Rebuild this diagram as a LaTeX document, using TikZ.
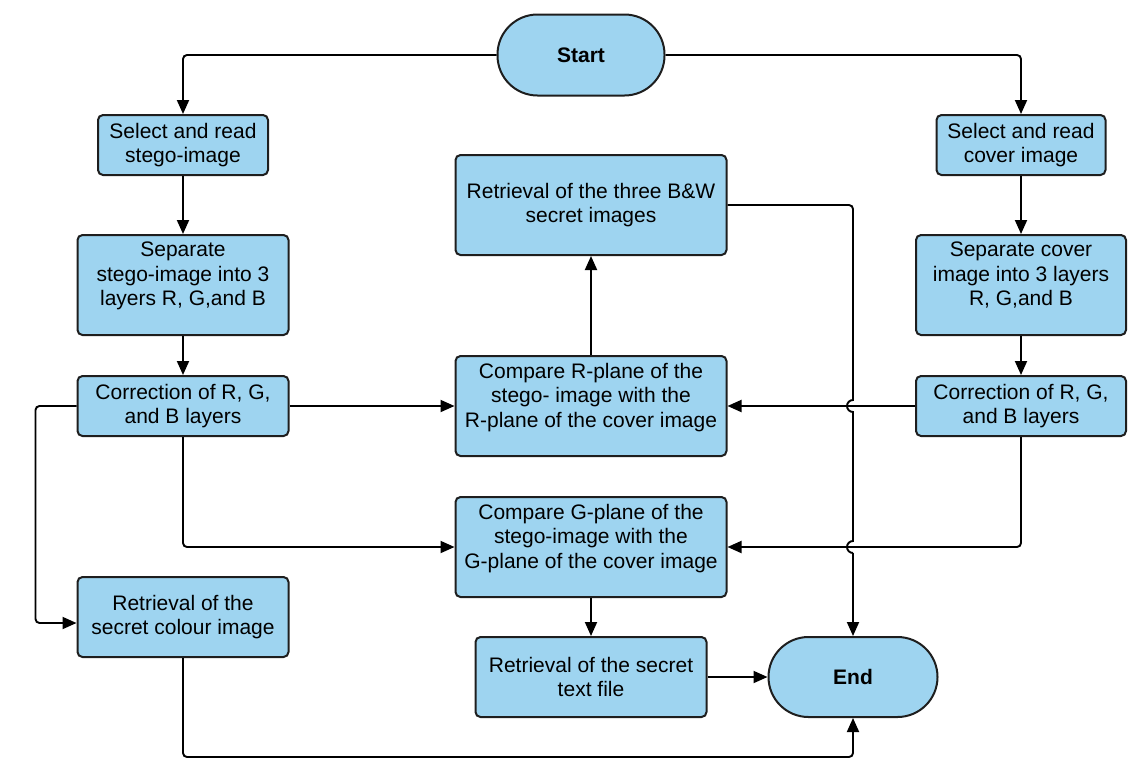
\documentclass[tikz,border=0pt]{standalone}
\usepackage{fontspec}
\setmainfont{Liberation Sans}
\usetikzlibrary{arrows.meta,calc}
\definecolor{boxfill}{RGB}{158,212,240}
\definecolor{boxline}{RGB}{30,30,30}
\begin{document}
\begin{tikzpicture}[x=1pt,y=-1pt,
  box/.style={draw=boxline,fill=boxfill,line width=2pt,rounded corners=5pt,
    inner sep=0pt,align=center,font=\fontsize{21}{24.5}\selectfont},
  threeline/.style={text depth=22pt},
  term/.style={box,rounded corners=40pt,font=\fontsize{21}{24.5}\selectfont\bfseries},
  arr/.style={line width=1.9pt,draw=black,rounded corners=4pt,-{Triangle[length=14pt,width=12pt]}},
  ln/.style={line width=1.9pt,draw=black}]
\useasboundingbox (0,0) rectangle (1129,758);
\node[term,minimum width=167pt,minimum height=81pt] (start) at (581,55) {Start};
\node[box,minimum width=170pt,minimum height=60pt] (sel1) at (183,145) {Select and read\\stego-image};
\node[box,threeline,minimum width=211pt,minimum height=100pt] (sep1) at (183,285) {Separate\\stego-image into 3\\layers R, G,and B};
\node[box,minimum width=211pt,minimum height=60pt] (cor1) at (183,406) {Correction of R, G,\\and B layers};
\node[box,minimum width=211pt,minimum height=80pt] (ret1) at (183,617) {Retrieval of the\\secret colour image};
\node[box,minimum width=271pt,minimum height=100pt] (bw) at (591,205) {Retrieval of the three B\&W\\secret images};
\node[box,threeline,minimum width=271pt,minimum height=100pt] (cmpR) at (591,406) {Compare R-plane of the\\stego- image with the\\R-plane of the cover image};
\node[box,threeline,minimum width=271pt,minimum height=100pt] (cmpG) at (591,547) {Compare G-plane of the\\stego-image with the\\G-plane of the cover image};
\node[box,minimum width=231pt,minimum height=80pt] (rettxt) at (591,677) {Retrieval of the secret\\text file};
\node[term,minimum width=169pt,minimum height=80pt] (endn) at (853,677) {End};
\node[box,minimum width=169pt,minimum height=60pt] (sel2) at (1021,145) {Select and read\\cover image};
\node[box,threeline,minimum width=210pt,minimum height=100pt] (sep2) at (1021,285) {Separate cover\\image into 3 layers\\R, G,and B};
\node[box,minimum width=210pt,minimum height=60pt] (cor2) at (1021,406) {Correction of R, G,\\and B layers};
% hop coordinates
\coordinate (hopA) at (endn.north |- cmpR.east);
\coordinate (hopB) at (endn.north |- cmpG.east);
% connectors
\draw[arr] (start.west) -| (sel1.north);
\draw[arr] (start.east) -| (sel2.north);
\draw[arr] (sel1.south) -- (sep1.north);
\draw[arr] (sep1.south) -- (cor1.north);
\draw[arr] (sel2.south) -- (sep2.north);
\draw[arr] (sep2.south) -- (cor2.north);
\draw[arr] (cor1.east) -- (cmpR.west);
\draw[arr] (cor1.south) |- (cmpG.west);
\draw[arr] (cor1.west) -- ++(-41,0) |- ([yshift=-6pt]ret1.west);
\draw[arr] (ret1.south) -- ++(0,99) -| (endn.south);
\draw[arr] (cmpR.north) -- (bw.south);
\draw[arr] (cor2.west) -- (cmpR.east);
\draw[arr] (cor2.south) |- (cmpG.east);
\draw[arr] (cmpG.south) -- (rettxt.north);
\draw[arr] (rettxt.east) -- (endn.west);
\draw[ln] (bw.east) -- ($(bw.east -| endn.north)+(-4,0)$) arc[start angle=90,end angle=0,radius=4pt]
  -- ($(hopA)+(0,-6)$) arc[start angle=90,end angle=270,radius=6pt]
  -- ($(hopB)+(0,-6)$) arc[start angle=90,end angle=270,radius=6pt];
\draw[arr] ($(hopB)+(0,6)$) -- (endn.north);
\end{tikzpicture}
\end{document}
